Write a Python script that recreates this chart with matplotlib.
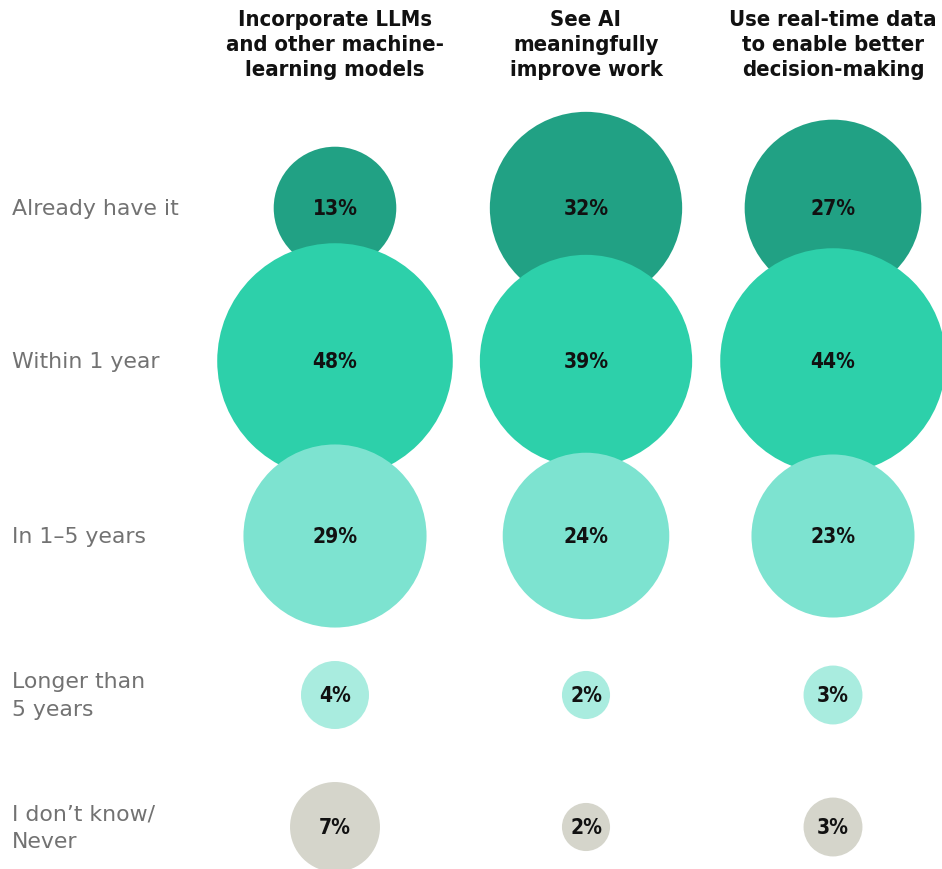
import matplotlib.pyplot as plt
from matplotlib.patches import Circle
import numpy as np

# data
columns = ["Incorporate LLMs\nand other machine-\nlearning models",
           "See AI\nmeaningfully\nimprove work",
           "Use real-time data\nto enable better\ndecision-making"]
rows = ["Already have it", "Within 1 year", "In 1\u20135 years",
        "Longer than\n5 years", "I don\u2019t know/\nNever"]
already = [13, 32, 27]
within_1 = [48, 39, 44]
in_1_5 = [29, 24, 23]
longer_5 = [4, 2, 3]
dont_know = [7, 2, 3]
values = [already, within_1, in_1_5, longer_5, dont_know]

row_colors = ["#21a184", "#2dd0aa", "#7de3d0", "#a9ecdf", "#d5d5cb"]

# layout (pixels)
W, H = 942, 870
col_x = [335, 586, 833]
row_y = [209, 362, 537, 696, 828]
scale = 17.0  # radius px per sqrt(percent)

fig = plt.figure(figsize=(W / 100, H / 100), dpi=100)
ax = fig.add_axes([0, 0, 1, 1])
ax.set_xlim(0, W)
ax.set_ylim(H, 0)
ax.set_aspect("equal")
ax.axis("off")

for i, vals in enumerate(values):
    for j, v in enumerate(vals):
        r = scale * np.sqrt(v)
        ax.add_patch(Circle((col_x[j], row_y[i]), r, color=row_colors[i], lw=0, zorder=i + 1))
        ax.text(col_x[j], row_y[i], f"{v}%", ha="center", va="center",
                fontsize=15, fontweight="bold", color="#111111", zorder=10,
                family="DejaVu Sans", fontstretch="condensed")

for i, lab in enumerate(rows):
    ax.text(12, row_y[i], lab, ha="left", va="center", fontsize=15.8,
            color="#727272", linespacing=1.45, family="DejaVu Sans")

for j, lab in enumerate(columns):
    ax.text(col_x[j], 45, lab, ha="center", va="center", fontsize=15.8,
            fontweight="bold", color="#111111", linespacing=1.32,
            family="DejaVu Sans", fontstretch="condensed")

fig.savefig("out.png", dpi=100)
